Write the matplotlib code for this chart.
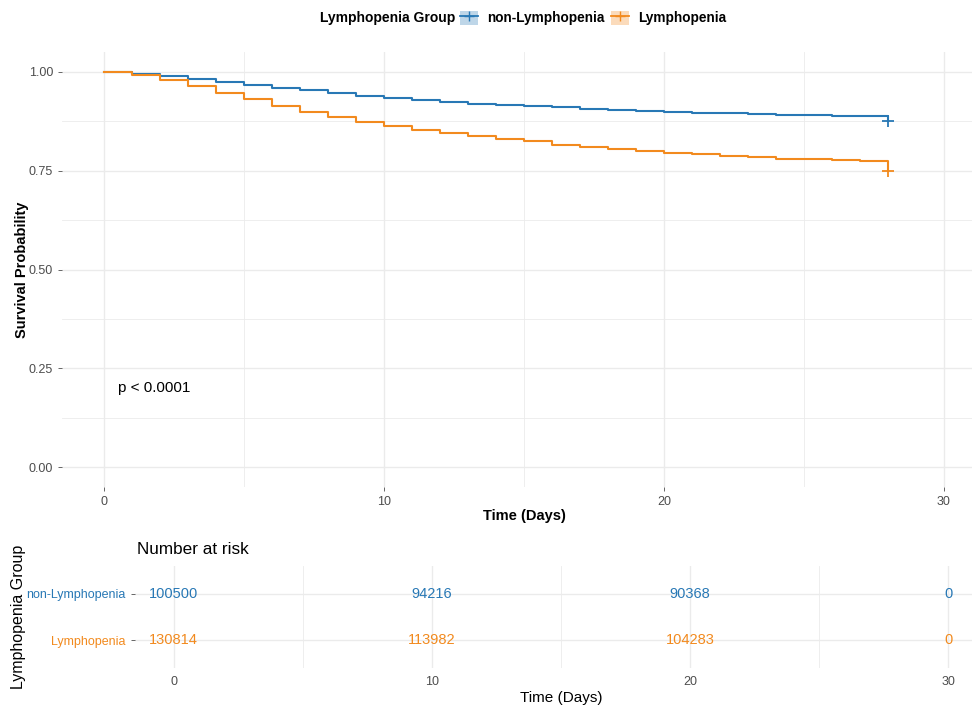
import numpy as np
import matplotlib
matplotlib.use("Agg")
from matplotlib import pyplot as plt
from matplotlib.patches import Patch
from matplotlib.lines import Line2D
from matplotlib.ticker import MultipleLocator

plt.rcParams['font.family'] = ['Liberation Sans', 'DejaVu Sans']

# survival per day (value holding from day d to d+1), last entry = value at day 28
days = np.arange(0, 29)
surv_non = [1.000, 0.995, 0.989, 0.981, 0.975, 0.967, 0.960, 0.954, 0.947, 0.940,
            0.934, 0.930, 0.924, 0.919, 0.917, 0.914, 0.911, 0.906, 0.904, 0.901,
            0.899, 0.897, 0.895, 0.894, 0.892, 0.892, 0.889, 0.889, 0.875]
surv_lym = [1.000, 0.992, 0.980, 0.965, 0.947, 0.931, 0.914, 0.899, 0.886, 0.874,
            0.863, 0.854, 0.845, 0.837, 0.829, 0.824, 0.816, 0.810, 0.805, 0.800,
            0.795, 0.792, 0.787, 0.784, 0.780, 0.779, 0.777, 0.775, 0.750]

groups = ["non-Lymphopenia", "Lymphopenia"]
risk_times = [0, 10, 20, 30]
risk_non = [100500, 94216, 90368, 0]
risk_lym = [130814, 113982, 104283, 0]

BLUE = "#2878b5"
ORANGE = "#f28a1e"
GRID = "#ebebeb"
TICK = "#4d4d4d"
NARROW = ['Liberation Sans Narrow', 'Liberation Sans', 'DejaVu Sans']


def style_axes(ax):
    for s in ax.spines.values():
        s.set_visible(False)
    ax.grid(True, which='major', color=GRID, lw=1.0)
    ax.grid(True, which='minor', color=GRID, lw=0.6)
    ax.set_axisbelow(True)


def main():
    fig = plt.figure(figsize=(9.72, 7.06), dpi=100)

    # ---- survival curves
    ax = fig.add_axes([0.0638, 0.3102, 0.9506, 0.616])
    style_axes(ax)
    for s, c in [(surv_non, BLUE), (surv_lym, ORANGE)]:
        ax.step(days, s, where='post', color=c, lw=1.5)
        ax.plot(days[-1], s[-1], marker='+', color=c, ms=8, mew=1.3)
    ax.set_xlim(-1.5, 31.5)
    ax.set_ylim(-0.05, 1.05)
    ax.xaxis.set_major_locator(MultipleLocator(10))
    ax.xaxis.set_minor_locator(MultipleLocator(5))
    ax.yaxis.set_minor_locator(MultipleLocator(0.125))
    ax.set_yticks([0, 0.25, 0.5, 0.75, 1.0])
    ax.set_yticklabels(["0.00", "0.25", "0.50", "0.75", "1.00"])
    ax.tick_params(which='major', colors=TICK, labelsize=9, length=3, width=0.6)
    ax.tick_params(which='minor', length=0)
    ax.set_xlabel("Time (Days)", fontsize=10.5, fontweight='bold', labelpad=1)
    ax.set_ylabel("Survival Probability", fontsize=10.5, fontweight='bold', labelpad=0)
    ax.text(0.5, 0.2, "p < 0.0001", fontsize=11, va='center', ha='left')

    # legend at the top
    fig.text(455 / 972, 1 - 18 / 706, "Lymphopenia Group", fontsize=10,
             fontweight='bold', ha='right', va='center')
    handles = [(Patch(facecolor=BLUE, alpha=0.3, edgecolor='none'),
                Line2D([], [], color=BLUE, marker='+', ms=7, lw=1.3)),
               (Patch(facecolor=ORANGE, alpha=0.3, edgecolor='none'),
                Line2D([], [], color=ORANGE, marker='+', ms=7, lw=1.3))]
    fig.legend(handles, groups, loc='center left',
               bbox_to_anchor=(448 / 972, 1 - 18 / 706), ncol=2, frameon=False,
               handlelength=1.3, handleheight=1.3, handletextpad=0.7,
               columnspacing=0.45, prop={'size': 9.8, 'weight': 'bold'})

    # ---- number at risk table
    rax = fig.add_axes([0.1389, 0.0538, 0.8765, 0.1445])
    style_axes(rax)
    rax.set_xlim(-1.5, 31.5)
    rax.set_ylim(0.4, 2.6)
    rax.xaxis.set_major_locator(MultipleLocator(10))
    rax.xaxis.set_minor_locator(MultipleLocator(5))
    rax.set_yticks([2, 1])
    rax.set_yticklabels(groups, family=NARROW, fontsize=9)
    for lab, c in zip(rax.get_yticklabels(), [BLUE, ORANGE]):
        lab.set_color(c)
    rax.tick_params(axis='y', length=3, width=0.6, color=TICK, pad=4)
    rax.tick_params(axis='x', which='both', length=0, colors=TICK, labelsize=9, pad=6)
    for lab in rax.get_xticklabels():
        lab.set_family(NARROW)
    for t, n1, n2 in zip(risk_times, risk_non, risk_lym):
        rax.text(t, 2, str(n1), color=BLUE, ha='center', va='center',
                 fontsize=10.5, family=NARROW)
        rax.text(t, 1, str(n2), color=ORANGE, ha='center', va='center',
                 fontsize=10.5, family=NARROW)
    rax.set_xlabel("Time (Days)", fontsize=11, family=NARROW, labelpad=2)
    fig.text(19 / 972, 1 - 617 / 706, "Lymphopenia Group", rotation=90,
             fontsize=11.5, ha='center', va='center')
    fig.text(137 / 972, 1 - 550 / 706, "Number at risk", fontsize=12.3,
             ha='left', va='center')

    fig.savefig("out.png", dpi=100)
    plt.close(fig)


if __name__ == "__main__":
    main()
